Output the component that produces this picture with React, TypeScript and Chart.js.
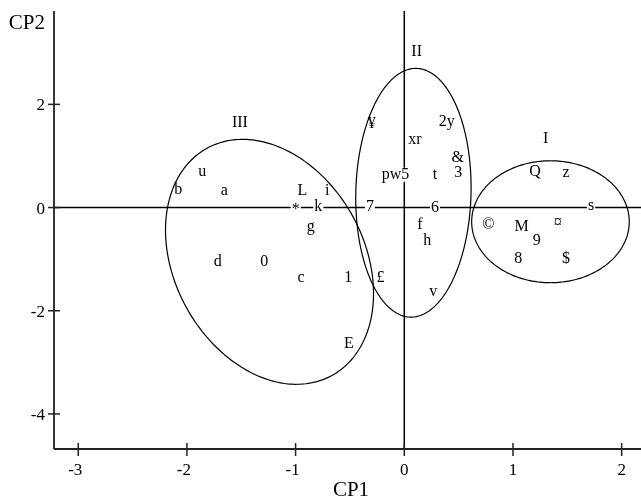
import React, { useEffect, useRef } from "react";
import { Chart, registerables } from "chart.js";

Chart.register(...registerables);

// Individuals (labels) and their coordinates on the first two principal components
const pointLabels = ["b", "u", "a", "L", "i", "*", "k", "7", "g", "d", "0", "c", "1", "£", "E",
  "¥", "2y", "xr", "&", "pw5", "t", "3", "6", "f", "h", "v",
  "Q", "z", "s", "©", "M", "¤", "9", "8", "$"];
const cp1 = [-2.079, -1.858, -1.656, -0.938, -0.708, -0.999, -0.791, -0.316, -0.861, -1.717, -1.288, -0.950, -0.515, -0.219, -0.509,
  -0.300, 0.390, 0.098, 0.491, -0.081, 0.282, 0.497, 0.282, 0.144, 0.212, 0.267,
  1.202, 1.488, 1.718, 0.773, 1.080, 1.411, 1.218, 1.049, 1.488];
const cp2 = [0.345, 0.688, 0.326, 0.326, 0.326, -0.037, 0.021, 0.021, -0.366, -1.045, -1.045, -1.355, -1.355, -1.360, -2.640,
  1.624, 1.669, 1.314, 0.971, 0.636, 0.636, 0.669, -0.010, -0.333, -0.643, -1.626,
  0.698, 0.669, 0.035, -0.333, -0.366, -0.300, -0.643, -0.992, -0.992];

// Group names and their positions
const groupNames = ["III", "II", "I"];
const groupCP1 = [-1.512, 0.114, 1.301];
const groupCP2 = [1.638, 3.014, 1.333];

// Group ellipses: centre and conjugate semi-axis vectors (data units)
const ellipseCP1 = [-1.240, 0.084, 1.345];
const ellipseCP2 = [-1.052, 0.287, -0.275];
const ellipseAX = [0.575, 0.028, 0.725];
const ellipseAY = [-2.202, 2.410, 0];
const ellipseBX = [-0.765, 0.530, 0];
const ellipseBY = [-0.886, -0.027, 1.182];

const xTicks = [-3, -2, -1, 0, 1, 2];
const yTicks = [-4, -2, 0, 2];
const xTitle = "CP1";
const yTitle = "CP2";

const FONT = '"Liberation Serif", "Times New Roman", Times, serif';

const pcaPlugin = {
  id: "pcaPlugin",
  afterDatasetsDraw(chart: any) {
    const { ctx, chartArea: a, scales } = chart;
    const xs = scales.x;
    const ys = scales.y;
    const line = (x1: number, y1: number, x2: number, y2: number) => {
      ctx.beginPath();
      ctx.moveTo(x1, y1);
      ctx.lineTo(x2, y2);
      ctx.stroke();
    };
    ctx.save();

    // zero lines
    const x0 = xs.getPixelForValue(0);
    const y0 = ys.getPixelForValue(0);
    ctx.strokeStyle = "#000";
    ctx.lineWidth = 1.5;
    line(a.left, y0, a.right, y0);
    line(x0, a.top, x0, a.bottom);

    // axes
    ctx.strokeStyle = "#222";
    ctx.lineWidth = 1.8;
    line(a.left, a.top, a.left, a.bottom);
    line(a.left, a.bottom, a.right, a.bottom);
    ctx.lineWidth = 1.5;
    ctx.fillStyle = "#000";
    ctx.font = `17px ${FONT}`;
    ctx.textAlign = "center";
    ctx.textBaseline = "alphabetic";
    for (const t of xTicks) {
      const px = xs.getPixelForValue(t);
      line(px, a.bottom - 6, px, a.bottom + 7);
      ctx.fillText(String(t), px - (t < 0 ? 3 : 0), a.bottom + 26);
    }
    ctx.textAlign = "right";
    for (const t of yTicks) {
      const py = ys.getPixelForValue(t);
      line(a.left - 6, py, a.left + 6, py);
      ctx.fillText(String(t), a.left - 9, py + 6);
    }

    // axis titles
    ctx.font = `21px ${FONT}`;
    ctx.textAlign = "center";
    ctx.fillText(xTitle, 351, 496);
    ctx.textAlign = "right";
    ctx.fillText(yTitle, 45, 29);

    // point labels with white background boxes
    ctx.font = `16px ${FONT}`;
    ctx.textAlign = "center";
    ctx.textBaseline = "middle";
    const pos = pointLabels.map((lab, i) => ({
      lab,
      px: xs.getPixelForValue(cp1[i]),
      py: ys.getPixelForValue(cp2[i]),
    }));
    ctx.fillStyle = "#fff";
    for (const p of pos) {
      const w = ctx.measureText(p.lab).width;
      ctx.fillRect(p.px - w / 2 - 1, p.py - 7, w + 2, 14);
    }
    ctx.fillStyle = "#000";
    for (const p of pos) ctx.fillText(p.lab, p.px, p.py);

    // group names
    groupNames.forEach((g, i) => {
      ctx.fillText(g, xs.getPixelForValue(groupCP1[i]), ys.getPixelForValue(groupCP2[i]));
    });

    // ellipses
    ctx.strokeStyle = "#000";
    ctx.lineWidth = 1.2;
    for (let e = 0; e < ellipseCP1.length; e++) {
      ctx.beginPath();
      const n = 240;
      for (let k = 0; k <= n; k++) {
        const t = (2 * Math.PI * k) / n;
        const X = ellipseCP1[e] + ellipseAX[e] * Math.cos(t) + ellipseBX[e] * Math.sin(t);
        const Y = ellipseCP2[e] + ellipseAY[e] * Math.cos(t) + ellipseBY[e] * Math.sin(t);
        const px = xs.getPixelForValue(X);
        const py = ys.getPixelForValue(Y);
        if (k === 0) ctx.moveTo(px, py);
        else ctx.lineTo(px, py);
      }
      ctx.closePath();
      ctx.stroke();
    }

    ctx.restore();
  },
};

export default function App() {
  const ref = useRef<HTMLCanvasElement | null>(null);
  useEffect(() => {
    document.body.style.margin = "0";
    const canvas = ref.current;
    if (!canvas) return;
    const chart = new Chart(canvas, {
      type: "scatter",
      data: {
        datasets: [
          {
            label: "individus",
            data: pointLabels.map((_, i) => ({ x: cp1[i], y: cp2[i] })),
            pointRadius: 0,
            pointHoverRadius: 0,
            backgroundColor: "rgba(0,0,0,0)",
          },
        ],
      },
      options: {
        animation: false,
        responsive: false,
        devicePixelRatio: 1,
        events: [],
        layout: { padding: { left: 54, right: 0, top: 11, bottom: 51 } },
        plugins: { legend: { display: false }, tooltip: { enabled: false }, title: { display: false } },
        scales: {
          x: { type: "linear", min: -3.223, max: 2.178, display: false },
          y: { type: "linear", min: -4.68, max: 3.81, display: false },
        },
      },
      plugins: [pcaPlugin],
    });
    return () => chart.destroy();
  }, []);
  return (
    <div style={{ width: 641, height: 500, background: "#fff" }}>
      <canvas ref={ref} width={641} height={500} style={{ display: "block", width: 641, height: 500 }} />
    </div>
  );
}
